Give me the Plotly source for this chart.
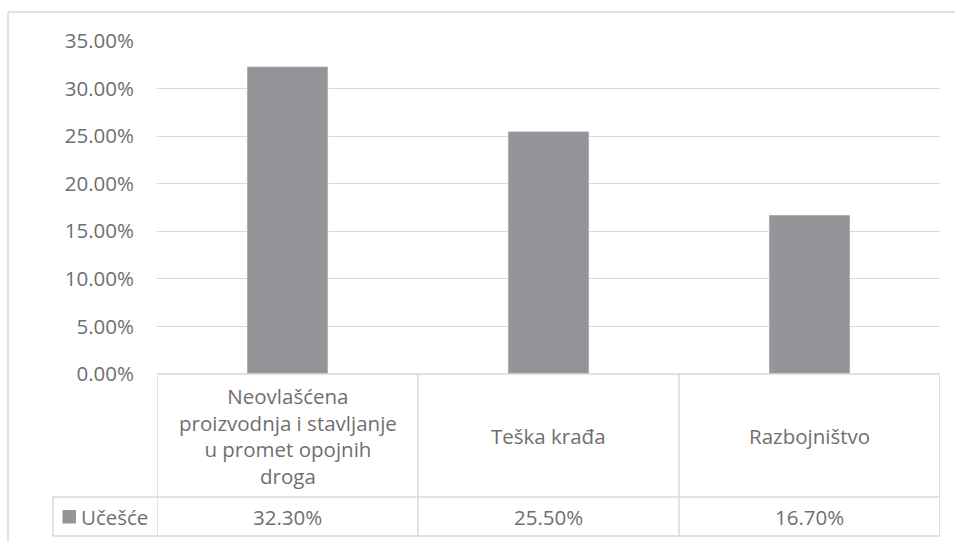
import plotly.graph_objects as go

categories = ["Neovlašćena<br>proizvodnja i stavljanje<br>u promet opojnih<br>droga",
              "Teška krađa", "Razbojništvo"]
values = [0.323, 0.255, 0.167]
series_name = "Učešće"
y_ticks = [0, 0.05, 0.10, 0.15, 0.20, 0.25, 0.30, 0.35]

W, H = 955, 542
TXT = "#6f6f6f"
BAR = "#939598"
GRID = "#d9d9d9"
FONT = "Open Sans"
FS = 20.5


def px(x):
    return x / W


def py(y):
    return 1 - y / H


x_left, x_right = 157, 940
y_top, y_zero = 41, 374
row_div, tab_bot, leg_left = 497, 536, 53

xs = list(range(len(categories)))

fig = go.Figure()
fig.add_trace(go.Bar(x=xs, y=values, marker_color=BAR, name=series_name,
                     showlegend=False))

fig.update_layout(
    width=W, height=H, autosize=False,
    margin=dict(l=0, r=0, t=0, b=0, pad=0, autoexpand=False),
    paper_bgcolor="white", plot_bgcolor="white",
    bargap=0.69,
    font=dict(family=FONT, size=FS, color=TXT),
    xaxis=dict(domain=[px(x_left), px(x_right)], range=[-0.5, len(categories) - 0.5],
               showticklabels=False, showgrid=False, zeroline=False, showline=False,
               automargin=False),
    yaxis=dict(domain=[py(y_zero), py(y_top)], range=[0, 0.35], tickvals=y_ticks,
               tickformat=".2%", showgrid=True, gridcolor=GRID, gridwidth=1.3,
               zeroline=False, showline=False, ticks="", ticklabelstandoff=22,
               automargin=False,
               tickfont=dict(family=FONT, size=FS, color=TXT)),
)

line = dict(color=GRID, width=1.5)
shapes = []
# outer chart frame (top and left edges are visible)
shapes.append(dict(type="line", xref="paper", yref="paper", x0=px(8), x1=1.0,
                   y0=py(12), y1=py(12), line=line))
shapes.append(dict(type="line", xref="paper", yref="paper", x0=px(8), x1=px(8),
                   y0=0, y1=py(12), line=line))
# data table horizontal lines
shapes.append(dict(type="line", xref="paper", yref="paper", x0=px(x_left), x1=px(x_right),
                   y0=py(y_zero), y1=py(y_zero), line=line))
shapes.append(dict(type="line", xref="paper", yref="paper", x0=px(leg_left), x1=px(x_right),
                   y0=py(row_div), y1=py(row_div), line=line))
shapes.append(dict(type="line", xref="paper", yref="paper", x0=px(leg_left), x1=px(x_right),
                   y0=py(tab_bot), y1=py(tab_bot), line=line))
# data table vertical lines
shapes.append(dict(type="line", xref="paper", yref="paper", x0=px(leg_left), x1=px(leg_left),
                   y0=py(row_div), y1=py(tab_bot), line=line))
for xb in [i - 0.5 for i in range(len(categories) + 1)]:
    shapes.append(dict(type="line", xref="x", yref="paper", x0=xb, x1=xb,
                       y0=py(y_zero), y1=py(tab_bot), line=line))
# legend key swatch
shapes.append(dict(type="rect", xref="paper", yref="paper", x0=px(62.5), x1=px(76),
                   y0=py(523.5), y1=py(510), fillcolor=BAR, line=dict(width=0)))
fig.update_layout(shapes=shapes)

ann = []
for i, (c, v) in enumerate(zip(categories, values)):
    ann.append(dict(x=i, y=py((y_zero + row_div) / 2), xref="x", yref="paper",
                    text=c, showarrow=False, xanchor="center", yanchor="middle",
                    font=dict(family=FONT, size=FS, color=TXT)))
    ann.append(dict(x=i, y=py((row_div + tab_bot) / 2), xref="x", yref="paper",
                    text=f"{v*100:.2f}%", showarrow=False, xanchor="center", yanchor="middle",
                    font=dict(family=FONT, size=FS, color=TXT)))
ann.append(dict(x=px(79), y=py((row_div + tab_bot) / 2), xref="paper", yref="paper",
                text=series_name, showarrow=False,
                xanchor="left", yanchor="middle", font=dict(family=FONT, size=FS, color=TXT)))
fig.update_layout(annotations=ann)

fig.write_html(
    "out.html",
    config={"displayModeBar": False, "responsive": False},
    post_script=("document.body.style.margin='0';document.body.style.overflow='hidden';"
                 "Plotly.relayout('{plot_id}', {width: 955, height: 542, autosize: false});"),
)
